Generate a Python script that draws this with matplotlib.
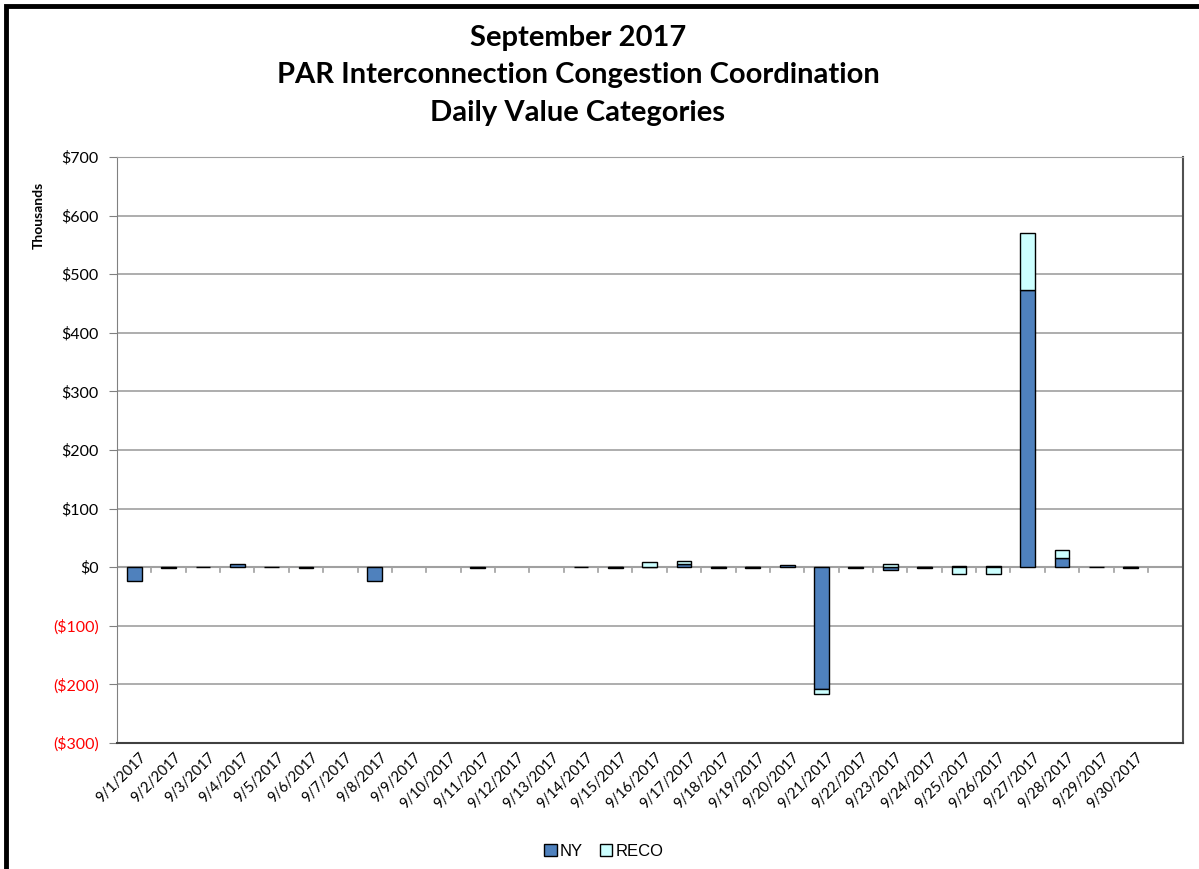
import matplotlib.pyplot as plt
from matplotlib.patches import Rectangle
from matplotlib.ticker import FuncFormatter
import numpy as np

# daily values, thousands of dollars
days = ["9/%d/2017" % d for d in range(1, 31)]
ny = [-24, -1, 1, 5, 1, -1, 0, -23, 0, 0,
      -1, 0, 0, 1, -1, 1, 5, -1, -1, 3,
      -207, -1, -4, -1, 2, 2, 473, 16, 1, -2]
reco = [0, 0, 0, 0, 0, 0, 0, 0, 0, 0,
        0, 0, 0, 0, 1, 8, 6, 1, 1, 0,
        -9, 0, 5, 1, -12, -12, 98, 13, 0, 1]

plt.rcParams['font.family'] = ['Lato', 'DejaVu Sans']

fig = plt.figure(figsize=(11.99, 8.69), dpi=100)
ax = fig.add_axes([117/1199, 1-743/869, (1183-117)/1199, (743-157)/869])

x = np.arange(len(days))
ny = np.array(ny, dtype=float)
reco = np.array(reco, dtype=float)

# excel style stacking: positives up from zero, negatives down from zero
reco_base = np.where(np.sign(reco) == np.sign(ny), ny, 0)
m1 = ny != 0
m2 = reco != 0
ax.bar(x[m1], ny[m1], 0.43, color='#4F81BD', edgecolor='black', linewidth=1, label='NY', zorder=3)
ax.bar(x[m2], reco[m2], 0.43, bottom=reco_base[m2], color='#CCFFFF', edgecolor='black', linewidth=1, label='RECO', zorder=3)

ax.set_ylim(-300, 700)
ax.set_xlim(-0.5, 30.52)
ax.set_yticks(range(-300, 701, 100))
ax.yaxis.set_major_formatter(FuncFormatter(lambda v, p: "$%d" % v if v >= 0 else "($%d)" % -v))
ax.tick_params(axis='y', labelsize=11.5, length=6, color='#808080', pad=7)
fig.canvas.draw()
for lab, v in zip(ax.get_yticklabels(), ax.get_yticks()):
    if v < 0:
        lab.set_color('red')

ax.grid(axis='y', color='#A0A0A0', linewidth=1.2, zorder=0)
ax.set_axisbelow(True)

# category axis at zero
ax.set_xticks([])
ax.axhline(0, color='#A0A0A0', linewidth=1.5, zorder=2)
for b in np.arange(-0.5, 30, 1.0):
    ax.plot([b, b], [0, -8], color='#A0A0A0', linewidth=1.2, zorder=2)
for i, d in enumerate(days):
    ax.text(i + 0.15, -312, d, rotation=45, ha='right', va='top', rotation_mode='anchor', fontsize=10.5)

ax.spines['left'].set_color('#808080')
ax.spines['top'].set_color('#A0A0A0')
ax.spines['right'].set_color('#505050')
ax.spines['right'].set_linewidth(1.5)
ax.spines['bottom'].set_color('#404040')
ax.spines['bottom'].set_linewidth(1.5)

ax.set_ylabel("Thousands", fontsize=10, fontweight='bold')
ax.yaxis.set_label_coords(-0.068, 0.9)

title_x = 578/1199
fig.text(title_x, 1-38/869, "September 2017", ha='center', va='center', fontsize=21, fontweight='bold')
fig.text(title_x, 1-75/869, "PAR Interconnection Congestion Coordination", ha='center', va='center', fontsize=21, fontweight='bold')
fig.text(title_x, 1-113/869, "Daily Value Categories", ha='center', va='center', fontsize=21, fontweight='bold')

fig.legend(loc='center', bbox_to_anchor=(604/1199, 1-851/869), ncol=2, frameon=False,
           handlelength=0.75, handleheight=0.75, handletextpad=0.2, columnspacing=1.0,
           prop={'family': 'Liberation Sans', 'size': 12})

# outer chart border
fig.patches.append(Rectangle((6/1199, -0.05), 1.2, 1 - 6/869 + 0.05, transform=fig.transFigure,
                             fill=False, edgecolor='black', linewidth=3.5))

fig.savefig("out.png", dpi=100)
